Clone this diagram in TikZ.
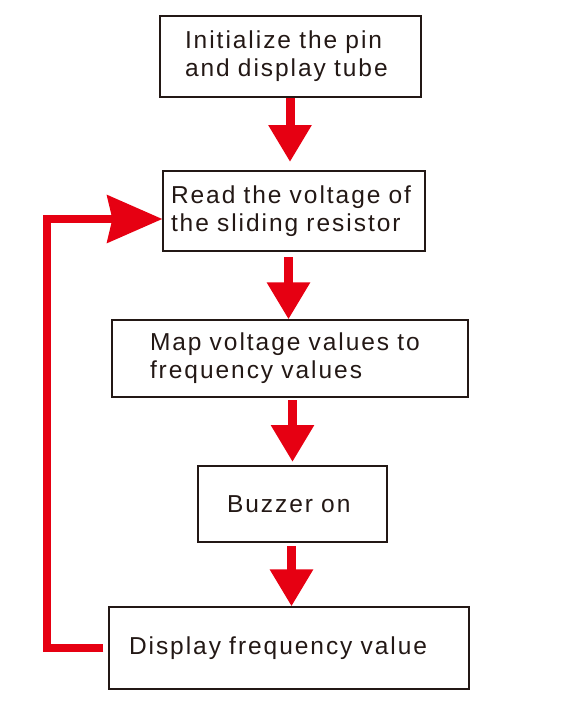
\documentclass[tikz,border=0pt]{standalone}
\usepackage{fontspec}
\setmainfont{Liberation Sans}[LetterSpace=8]
\usetikzlibrary{arrows.meta}
\definecolor{signalrot}{HTML}{E60012}
\definecolor{tinte}{HTML}{231815}

\begin{document}
\begin{tikzpicture}[x=1pt,y=-1pt,
	kasten/.style={draw=tinte,line width=1.2pt,inner sep=0pt,align=left,text=tinte,
		font=\fontsize{24.5}{28}\selectfont},
	pfeil/.style={draw=signalrot,line width=9pt,
		-{Triangle[width=41pt,length=37pt]},signalrot},
	ruecklauf/.style={draw=signalrot,line width=8pt,
		-{Stealth[width=47pt,length=55pt,inset=5pt]},signalrot}]

\useasboundingbox (0,0) rectangle (570,706);

% Ablauf
\node[kasten,minimum width=261pt,minimum height=81pt,text width=211pt] (init) at (290.5,56.5)
	{Initialize the pin\\and display tube};
\node[kasten,minimum width=262pt,minimum height=80pt,text width=246pt] (lesen) at (294,211)
	{Read the voltage of\\the sliding resistor};
\node[kasten,minimum width=356pt,minimum height=77pt,text width=280pt] (abbild) at (290,358.5)
	{Map voltage values to\\frequency values};
\node[kasten,minimum width=189pt,minimum height=76pt,text width=131pt] (summer) at (292.5,504)
	{Buzzer on};
\node[kasten,minimum width=360pt,minimum height=82pt,text width=320pt] (anzeige) at (289,648)
	{Display frequency value};

% Pfeile nach unten
\draw[pfeil] (290,98) coordinate (p1) -- (p1 |- 0,162);
\draw[pfeil] (288.5,257) coordinate (p2) -- (p2 |- abbild.north);
\draw[pfeil] (292.5,400) coordinate (p3) -- (p3 |- 0,462);
\draw[pfeil] (291.5,546) coordinate (p4) -- (p4 |- anzeige.north);

% Schleife zurueck
\coordinate (ecke) at (47,219);
\draw[ruecklauf,line cap=butt] ([xshift=-5pt]anzeige.west) -| (ecke) -- (ecke -| lesen.west);

\end{tikzpicture}
\end{document}
